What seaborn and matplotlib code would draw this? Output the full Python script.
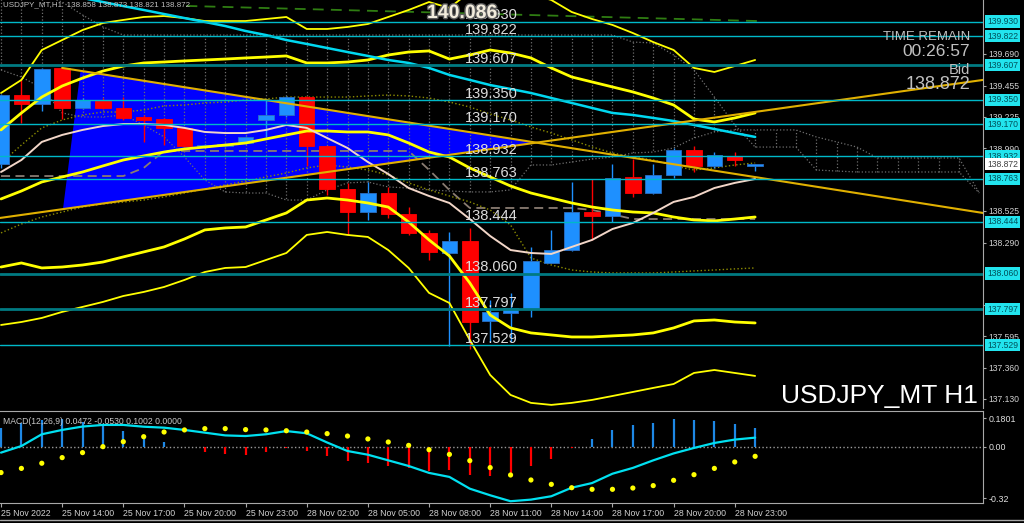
import numpy as np
import matplotlib
matplotlib.use("Agg")
import matplotlib.pyplot as plt
import matplotlib.transforms as mtransforms
import matplotlib.patheffects as pe
import seaborn as sns

# ---- candles (USDJPY H1, 25 Nov 11:00 .. 29 Nov 00:00) ----
open_ = [138.87, 139.385, 139.32, 139.585, 139.29, 139.34, 139.29, 139.222, 139.207, 139.14,
         139.007, 139.01, 139.03, 139.20, 139.237, 139.37, 139.007, 138.69, 138.52, 138.66,
         138.505, 138.36, 138.215, 138.30, 137.71, 137.77, 137.80, 138.14, 138.235, 138.52,
         138.49, 138.78, 138.66, 138.79, 138.975, 138.86, 138.935, 138.858]
high = [139.39, 139.50, 139.585, 139.59, 139.36, 139.36, 139.37, 139.237, 139.215, 139.145,
        139.02, 139.03, 139.08, 139.35, 139.38, 139.38, 139.01, 138.73, 138.74, 138.70,
        138.555, 138.38, 138.37, 138.40, 137.865, 137.915, 138.26, 138.38, 138.74, 138.76,
        138.87, 138.91, 138.87, 138.99, 139.005, 138.96, 138.963, 138.873]
low = [138.84, 139.18, 139.27, 139.21, 139.28, 139.28, 139.20, 139.035, 139.015, 139.00,
       138.99, 139.00, 139.02, 139.07, 139.22, 138.86, 138.64, 138.35, 138.46, 138.47,
       138.35, 138.16, 137.52, 137.50, 137.55, 137.55, 137.74, 138.14, 138.23, 138.31,
       138.445, 138.63, 138.65, 138.77, 138.815, 138.84, 138.86, 138.821]
close = [139.385, 139.32, 139.578, 139.29, 139.348, 139.29, 139.215, 139.20, 139.14, 139.007,
         139.01, 139.02, 139.074, 139.237, 139.37, 139.007, 138.69, 138.52, 138.66, 138.505,
         138.36, 138.22, 138.30, 137.70, 137.775, 137.805, 138.15, 138.235, 138.52, 138.49,
         138.77, 138.66, 138.79, 138.98, 138.86, 138.94, 138.905, 138.872]

# ---- indicators on price ----
bb_up3 = [139.400, 139.497, 139.719, 139.793, 139.867, 139.919, 139.942, 139.964, 139.971, 139.956,
          139.934, 139.934, 139.934, 139.949, 139.964, 139.875, 139.875, 139.890, 139.912, 139.964,
          140.016, 140.075, 140.031, 140.150, 140.200, 140.180, 140.135, 140.090, 140.001, 139.949,
          139.905, 139.845, 139.778, 139.719, 139.586, 139.556, 139.600, 139.645]
bb_up2 = [139.126, 139.252, 139.370, 139.452, 139.511, 139.563, 139.600, 139.623, 139.630, 139.638,
          139.645, 139.652, 139.660, 139.667, 139.675, 139.623, 139.623, 139.630, 139.645, 139.682,
          139.704, 139.712, 139.652, 139.682, 139.719, 139.697, 139.660, 139.586, 139.519, 139.482,
          139.445, 139.408, 139.363, 139.311, 139.207, 139.185, 139.215, 139.252]
bb_mid = [138.614, 138.673, 138.740, 138.777, 138.814, 138.859, 138.903, 138.933, 138.962, 138.985,
          138.999, 139.014, 139.029, 139.059, 139.089, 139.118, 139.118, 139.111, 139.111, 139.089,
          139.029, 138.962, 138.925, 138.844, 138.777, 138.710, 138.658, 138.621, 138.584, 138.554,
          138.532, 138.517, 138.510, 138.480, 138.458, 138.451, 138.465, 138.480]
bb_lo2 = [138.109, 138.139, 138.102, 138.109, 138.124, 138.146, 138.184, 138.221, 138.258, 138.317,
          138.384, 138.399, 138.406, 138.458, 138.510, 138.606, 138.621, 138.606, 138.584, 138.554,
          138.443, 138.310, 138.191, 137.991, 137.753, 137.657, 137.620, 137.605, 137.590, 137.590,
          137.598, 137.605, 137.620, 137.657, 137.709, 137.716, 137.701, 137.694]
bb_lo3 = [137.679, 137.701, 137.731, 137.776, 137.813, 137.850, 137.894, 137.924, 137.961, 138.013,
          138.072, 138.102, 138.109, 138.161, 138.213, 138.347, 138.369, 138.347, 138.332, 138.235,
          138.102, 137.917, 137.842, 137.568, 137.308, 137.160, 137.101, 137.086, 137.101, 137.123,
          137.152, 137.182, 137.212, 137.241, 137.323, 137.345, 137.323, 137.301]
ma_cyan = [140.224, 140.194, 140.164, 140.127, 140.105, 140.075, 140.045, 140.016, 139.986, 139.956,
           139.927, 139.897, 139.860, 139.830, 139.793, 139.764, 139.734, 139.704, 139.675, 139.645,
           139.623, 139.586, 139.534, 139.497, 139.459, 139.430, 139.400, 139.363, 139.326, 139.289,
           139.252, 139.237, 139.215, 139.192, 139.163, 139.133, 139.103, 139.074]
ma_beige = [138.814, 138.903, 139.037, 139.089, 139.126, 139.155, 139.170, 139.170, 139.163, 139.141,
            139.111, 139.103, 139.103, 139.126, 139.163, 139.141, 139.066, 138.992, 138.888, 138.799,
            138.695, 138.636, 138.584, 138.465, 138.339, 138.235, 138.213, 138.206, 138.258, 138.310,
            138.391, 138.436, 138.510, 138.592, 138.629, 138.695, 138.733, 138.762]
kijun = [138.784, 138.784, 138.784, 138.784, 138.784, 138.784, 138.784, 138.844, 138.970, 138.970,
         138.970, 138.970, 138.970, 138.970, 138.970, 138.970, 138.970, 138.970, 138.970, 138.970,
         138.970, 138.830, 138.680, 138.547, 138.547, 138.547, 138.547, 138.547, 138.547, 138.532,
         138.500, 138.465, 138.465, 138.465, 138.465, 138.465, 138.465, 138.465]
env_up = [138.881, 139.014, 139.141, 139.200, 139.237, 139.259, 139.259, 139.274, 139.304, 139.311,
          139.326, 139.333, 139.348, 139.356, 139.370, 139.370, 139.370, 139.370, 139.378, 139.385,
          139.378, 139.363, 139.333, 139.296, 139.244, 139.200, 139.148, 139.103, 139.052, 139.000,
          138.955, 138.925, 138.903, 138.859, 138.829, 138.844, 138.866, 138.881]
env_lo = [138.362, 138.428, 138.480, 138.517, 138.554, 138.577, 138.591, 138.606, 138.629, 138.658,
          138.688, 138.718, 138.747, 138.777, 138.807, 138.844, 138.866, 138.851, 138.829, 138.792,
          138.733, 138.681, 138.636, 138.592, 138.532, 138.421, 138.176, 138.124, 138.087, 138.072,
          138.065, 138.065, 138.065, 138.072, 138.080, 138.087, 138.095, 138.102]
# cloud, shifted forward past the last bar
span_a = [140.238, 140.164, 140.127, 140.075, 139.979, 139.890, 139.830, 139.830, 139.830, 139.830,
          139.830, 139.830, 139.830, 139.830, 139.830, 139.830, 139.830, 139.830, 139.830, 139.830,
          139.830, 139.830, 139.830, 139.830, 139.830, 139.830, 139.830, 139.830, 139.830, 139.830,
          139.830, 139.778, 139.771, 139.682, 139.571, 139.370, 139.163, 138.999, 138.999, 138.999,
          138.829, 138.821, 138.814, 138.814, 138.814, 138.814, 138.814, 138.814, 138.658]
span_b = [139.571, 139.519, 139.437, 139.252, 139.222, 139.222, 139.237, 139.163, 139.074, 138.925,
          138.755, 138.666, 138.658, 138.658, 138.606, 138.606, 138.681, 138.733, 138.740, 138.703,
          138.695, 138.681, 138.673, 138.666, 138.666, 138.681, 138.866, 138.866, 138.888, 138.910,
          138.925, 138.955, 138.962, 138.992, 139.066, 139.111, 139.126, 139.126, 139.126, 139.126,
          139.074, 139.037, 138.999, 138.918, 138.918, 138.918, 138.918, 138.918, 138.658]

# trend lines (bar, price) and the triangle between them
desc_bars, desc_prices = [3, 48.18], [139.586, 138.510]
asc_bars, asc_prices = [-0.05, 48.18], [138.473, 139.497]
tri_top_bar, tri_bottom_bar = 3.9, 3.04
green_bars, green_prices = [9.1, 37.1], [140.046, 139.934]

levels = [139.930, 139.822, 139.607, 139.350, 139.170, 138.932, 138.763, 138.444, 138.060, 137.797, 137.529]
level_dark = [False, False, True, False, False, False, False, False, True, True, False]
bid = 138.872
price_ticks = [137.130, 137.360, 137.595, 137.825, 138.290, 138.525, 138.990, 139.225, 139.455, 139.690]

# ---- MACD panel ----
macd_hist = [0.120, 0.151, 0.168, 0.172, 0.155, 0.141, 0.099, 0.068, 0.033, -0.002,
             -0.031, -0.046, -0.050, -0.031, -0.005, -0.025, -0.056, -0.087, -0.097, -0.118,
             -0.128, -0.149, -0.145, -0.176, -0.182, -0.186, -0.120, -0.072, -0.006, 0.048,
             0.104, 0.135, 0.151, 0.176, 0.168, 0.159, 0.141, 0.118]
macd_line = [-0.035, 0.006, 0.079, 0.106, 0.127, 0.137, 0.137, 0.126, 0.120, 0.106,
             0.089, 0.072, 0.068, 0.079, 0.099, 0.085, 0.028, -0.025, -0.048, -0.083,
             -0.118, -0.161, -0.186, -0.259, -0.300, -0.337, -0.327, -0.306, -0.253, -0.224,
             -0.166, -0.130, -0.083, -0.040, -0.006, 0.025, 0.046, 0.058]
macd_dots = [-0.159, -0.133, -0.101, -0.066, -0.035, 0.002, 0.033, 0.064, 0.093, 0.106,
             0.114, 0.114, 0.108, 0.106, 0.101, 0.093, 0.083, 0.068, 0.050, 0.031,
             0.010, -0.017, -0.046, -0.085, -0.128, -0.174, -0.205, -0.232, -0.253, -0.263,
             -0.263, -0.255, -0.240, -0.207, -0.172, -0.133, -0.093, -0.058]
macd_ticks = [0.1801, 0.0, -0.32]
macd_tick_labels = ["0.1801", "0.00", "-0.32"]

tick_bars = [0, 3, 6, 9, 12, 15, 18, 21, 24, 27, 30, 33, 36]
tick_labels = ["25 Nov 2022", "25 Nov 14:00", "25 Nov 17:00", "25 Nov 20:00", "25 Nov 23:00",
               "28 Nov 02:00", "28 Nov 05:00", "28 Nov 08:00", "28 Nov 11:00", "28 Nov 14:00",
               "28 Nov 17:00", "28 Nov 20:00", "28 Nov 23:00"]

sns.set_style("dark", {"axes.facecolor": "black", "figure.facecolor": "black",
                       "axes.edgecolor": "#a8a8a8", "grid.color": "black"})
plt.rcParams["font.family"] = ["Liberation Sans", "DejaVu Sans"]

W, H = 1024, 523
fig = plt.figure(figsize=(W / 100, H / 100), dpi=100)
ax = fig.add_axes([0, 115 / H, 983 / W, 408 / H])
ax2 = fig.add_axes([0, 20 / H, 983 / W, 92 / H], sharex=ax)
ax.set_ylim(137.063, 140.090)
ax2.set_ylim(-0.348, 0.2236)

bars = np.arange(len(close))
cbars = np.arange(len(span_a))
o, h, l, c = map(np.array, (open_, high, low, close))

# blue triangle between the trend lines
dx = np.array(desc_bars); dy = np.array(desc_prices)
axb = np.array(asc_bars); ay = np.array(asc_prices)
ds = (dy[1] - dy[0]) / (dx[1] - dx[0]); as_ = (ay[1] - ay[0]) / (axb[1] - axb[0])
xi = ((ay[0] - as_ * axb[0]) - (dy[0] - ds * dx[0])) / (ds - as_)
yi = dy[0] + ds * (xi - dx[0])
tri = [(tri_top_bar, np.interp(tri_top_bar, dx, dy)),
       (tri_bottom_bar, ay[0] + as_ * (tri_bottom_bar - axb[0])), (xi, yi)]
ax.add_patch(plt.Polygon(tri, closed=True, color="#0000ff", lw=0, zorder=1))

# ichimoku cloud drawn as dotted hatching
ax.vlines(cbars, span_a, span_b, colors="#6e6e6e", linestyles=":", lw=0.9, zorder=1.5)
sns.lineplot(x=cbars, y=span_a, ax=ax, color="#6e6e6e", lw=0.9, ls=":", sort=False, zorder=1.5)
sns.lineplot(x=cbars, y=span_b, ax=ax, color="#6e6e6e", lw=0.9, ls=":", sort=False, zorder=1.5)
sns.lineplot(x=bars, y=kijun, ax=ax, color="#8a7c72", lw=1.3, ls=(0, (5, 3)), sort=False, zorder=2)
sns.lineplot(x=bars, y=env_up, ax=ax, color="#8c8c00", lw=1, ls=":", sort=False, zorder=2)
sns.lineplot(x=bars, y=env_lo, ax=ax, color="#8c8c00", lw=1, ls=":", sort=False, zorder=2)
ax.plot(green_bars, green_prices, color="#2f7d12", lw=1.3, ls=(0, (6, 4)), zorder=2)

# candles
up = c > o
col = np.where(up, "#1e90ff", "#ff0000")
ax.vlines(bars, l, h, colors=col, lw=1, zorder=3)
ax.bar(bars, np.maximum(np.abs(c - o), 0.006), bottom=np.minimum(o, c), width=0.76,
       color=col, edgecolor=np.where(up, "#2b6fc4", "#ff0000"), lw=0.6, zorder=3.1)

# bands and moving averages
for s, lw in [(bb_up3, 1.3), (bb_lo3, 1.3), (bb_up2, 2.0), (bb_mid, 2.0), (bb_lo2, 2.0)]:
    sns.lineplot(x=bars, y=s, ax=ax, color="#ffff00", lw=lw, sort=False, zorder=4)
sns.lineplot(x=bars, y=ma_cyan, ax=ax, color="#00d8f0", lw=1.8, sort=False, zorder=4)
sns.lineplot(x=bars, y=ma_beige, ax=ax, color="#f2d6c8", lw=1.4, sort=False, zorder=4)
ax.plot([dx[0], dx[1]], [dy[0], dy[1]], color="#e0b000", lw=1.5, zorder=4.2)
ax.plot([axb[0], axb[1]], [ay[0], ay[1]], color="#e0b000", lw=1.5, zorder=4.2)

# horizontal levels with labels
blend = mtransforms.blended_transform_factory(ax.transAxes, ax.transData)
for lv, dark in zip(levels, level_dark):
    ax.axhline(lv, color="#007a82" if dark else "#00b8c8", lw=2 if dark else 1, zorder=4.5)
    ax.annotate(f"{lv:.3f}", xy=(465 / 983, lv), xycoords=blend, xytext=(0, 1.6),
                textcoords="offset points", va="baseline", ha="left", fontsize=10.5,
                color="#dcdcdc", zorder=6)
    ax.text(1.004, lv, f"{lv:.3f}", transform=blend, fontsize=6.2, color="#00505a",
            va="center", ha="left", clip_on=False, zorder=7,
            bbox=dict(boxstyle="square,pad=0.2", fc="#22e4ee", ec="none"))
ax.text(1.004, bid, f"{bid:.3f}", transform=blend, fontsize=6.2, color="#404040",
        va="center", ha="left", clip_on=False, zorder=7,
        bbox=dict(boxstyle="square,pad=0.2", fc="white", ec="none"))
ax.text(427 / 983, 1 - 18 / 408, "140.086", transform=ax.transAxes, fontsize=14,
        fontweight="bold", color="#f2ecdc", va="baseline", ha="left", zorder=6,
        path_effects=[pe.withStroke(linewidth=2, foreground="#5a5a5a")])

ax.yaxis.tick_right()
ax.set_yticks(price_ticks)
ax.set_yticklabels([f"{t:.3f}" for t in price_ticks])
ax.tick_params(axis="y", colors="#a8a8a8", labelcolor="#d0d0d0", labelsize=6.2,
               length=2.5, pad=1.5, left=False, right=True)
ax.tick_params(axis="x", bottom=False, labelbottom=False)
ax.grid(False)
for sp in ["top", "left", "bottom"]:
    ax.spines[sp].set_visible(False)
ax.spines["right"].set_color("#a8a8a8")
ax.set_xlabel(""); ax.set_ylabel("")

# MACD
ax2.vlines(bars, 0, macd_hist, colors=np.where(np.array(macd_hist) >= 0, "#1e88e5", "#ff0000"),
           lw=1.6, zorder=2)
ax2.axhline(0, color="#9a9a9a", ls=":", lw=1, zorder=1)
sns.lineplot(x=bars, y=macd_line, ax=ax2, color="#00e0f0", lw=1.6, sort=False, zorder=3)
sns.scatterplot(x=bars, y=macd_dots, ax=ax2, color="#ffff00", s=14, edgecolor="none", zorder=4)
ax2.yaxis.tick_right()
ax2.set_yticks(macd_ticks)
ax2.set_yticklabels(macd_tick_labels)
ax2.set_xticks(tick_bars)
ax2.set_xticklabels(tick_labels, ha="left")
ax2.tick_params(axis="y", colors="#a8a8a8", labelcolor="#e0e0e0", labelsize=6.4,
                length=2.5, pad=1.5, left=False, right=True)
ax2.tick_params(axis="x", colors="#a8a8a8", labelcolor="#d0d0d0", labelsize=6.3,
                length=3, pad=1.5, bottom=True)
ax2.grid(False)
ax2.spines["left"].set_visible(False)
for sp in ["top", "right", "bottom"]:
    ax2.spines[sp].set_color("#a8a8a8")
ax2.set_xlabel(""); ax2.set_ylabel("")
ax2.text(0.003, 0.93, "MACD(12,26,9) 0.0472 -0.0530 0.1002 0.0000", transform=ax2.transAxes,
         va="top", ha="left", fontsize=6.2, color="#c8c8c8", zorder=6)
ax.set_xlim(-0.05, 48.18)

# header and corner texts
fig.text(3 / W, 1 - 1.5 / H, "USDJPY_MT,H1  138.858 138.873 138.821 138.872", fontsize=5.8,
         color="#c0c0c0", va="top", ha="left")
fig.text(970 / W, 1 - 31 / H, "TIME REMAIN", fontsize=9.5, color="#c0c0c0", va="top", ha="right")
fig.text(970 / W, 1 - 44 / H, "00:26:57", fontsize=12.5, color="#c0c0c0", va="top", ha="right")
fig.text(970 / W, 1 - 63 / H, "Bid", fontsize=10.5, color="#c0c0c0", va="top", ha="right")
fig.text(970 / W, 1 - 76 / H, "138.872", fontsize=13, color="#c0c0c0", va="top", ha="right")
fig.text(978 / W, 1 - 403 / H, "USDJPY_MT H1", fontsize=19, color="white", va="baseline", ha="right")
fig.add_artist(plt.Line2D([0, 1], [3 / H, 3 / H], color="#a8a8a8", lw=1))

fig.savefig("out.png", dpi=100, facecolor="black")
